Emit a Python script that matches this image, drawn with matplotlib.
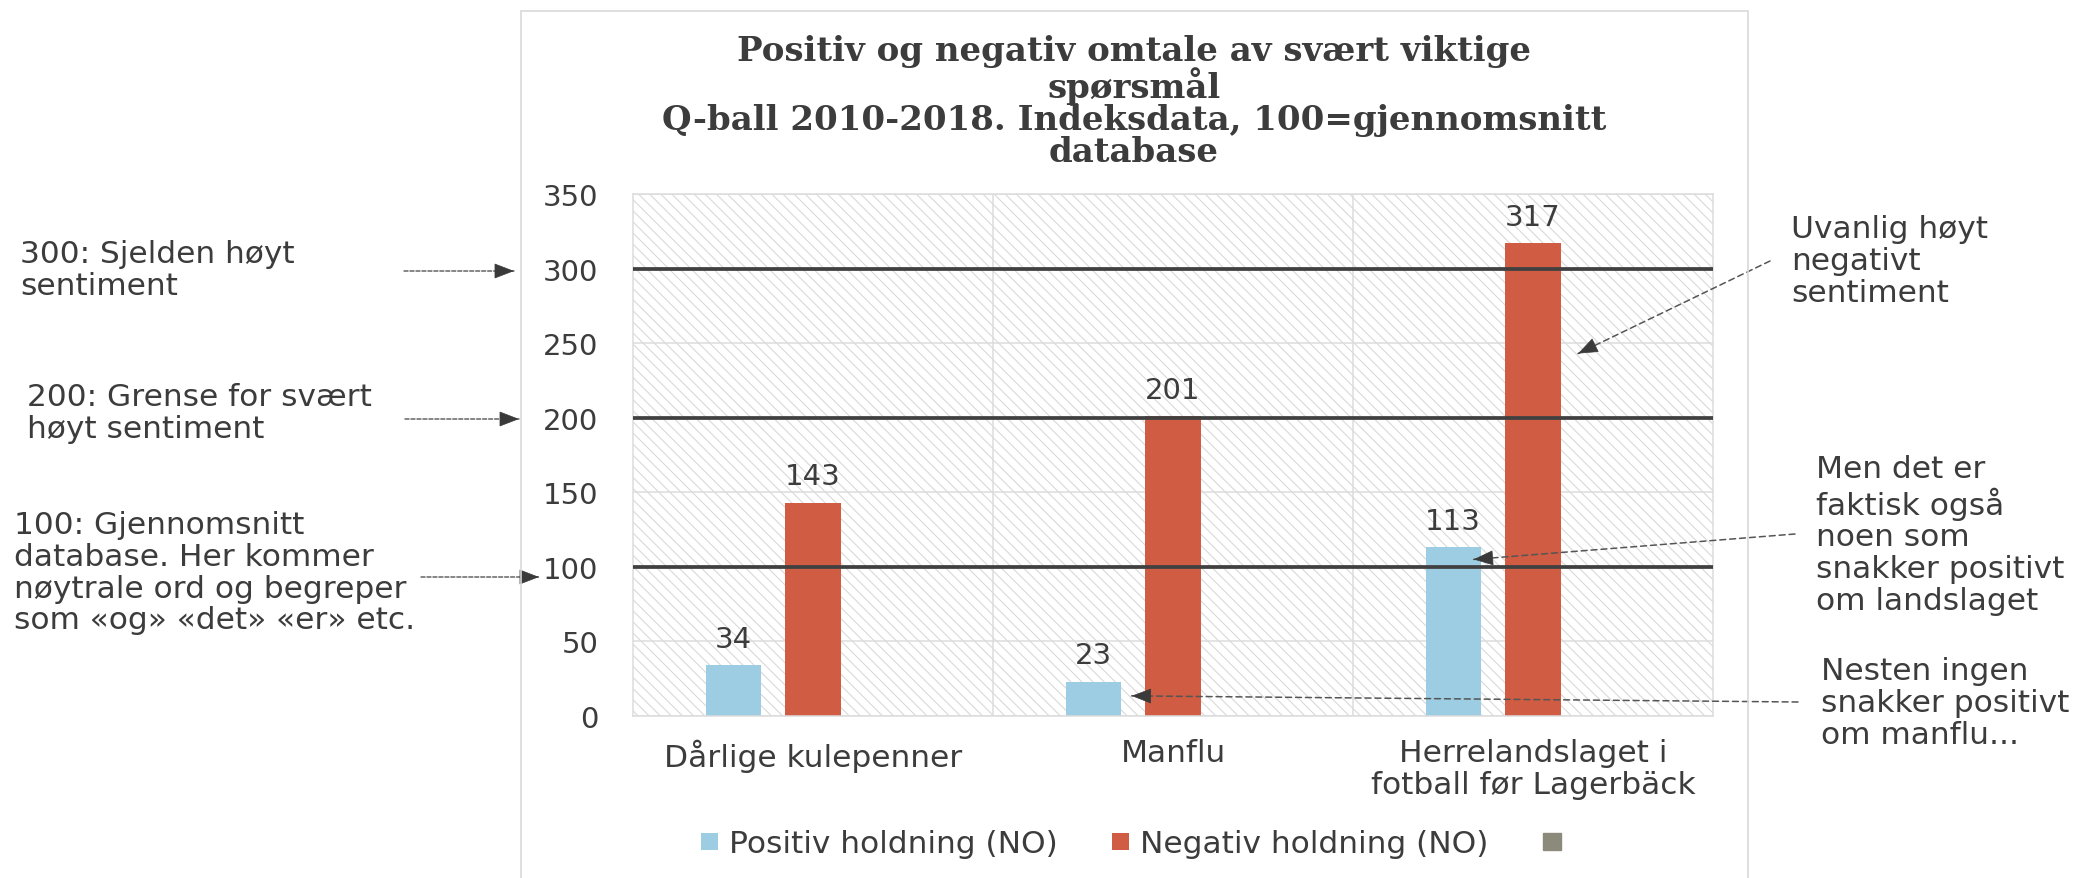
import numpy as np
import matplotlib
matplotlib.use("Agg")
import matplotlib.pyplot as plt
from matplotlib.patches import Rectangle

# data
categories = ["Dårlige kulepenner", "Manflu", "Herrelandslaget i\nfotball før Lagerbäck"]
positive = [34, 23, 113]
negative = [143, 201, 317]
third_series = [None, None, None]  # empty series, only shown in legend
series_labels = ["Positiv holdning (NO)", "Negativ holdning (NO)", ""]
yticks = [0, 50, 100, 150, 200, 250, 300, 350]
threshold_lines = [100, 200, 300]

title = ("Positiv og negativ omtale av svært viktige\nspørsmål\n"
         "Q-ball 2010-2018. Indeksdata, 100=gjennomsnitt\ndatabase")

TXT = "#3c3c3c"
BLUE = "#9dcde2"
RED = "#cf5c43"
GREY = "#8c8b7b"
FS = 22.5

W, H = 2089, 879


def fx(px):
    return px / W


def fy(py):
    return 1 - py / H


plt.rcParams["font.family"] = ["DejaVu Sans"]
plt.rcParams["hatch.color"] = "#d9d9d9"
plt.rcParams["hatch.linewidth"] = 0.8

fig = plt.figure(figsize=(W / 100, H / 100), dpi=100)
fig.patch.set_facecolor("white")

# chart frame
fig.add_artist(Rectangle((fx(521), -0.1), fx(1748) - fx(521), fy(12) + 0.1,
                         transform=fig.transFigure, fill=False,
                         edgecolor="#d9d9d9", lw=1.2))

ax = fig.add_axes([fx(633), fy(717), fx(1713) - fx(633), fy(195) - fy(717)])
ax.set_xlim(-0.5, 2.5)
ax.set_ylim(0, 350)

# hatched plot background
ax.add_patch(Rectangle((0, 0), 1, 1, transform=ax.transAxes, facecolor="white",
                       edgecolor="#d9d9d9", hatch="\\\\\\", lw=0, zorder=0))

x = np.arange(len(categories))
off = 0.222
bw = 0.153
third_vals = np.array([np.nan if v is None else v for v in third_series], dtype=float)
b1 = ax.bar(x - off, positive, bw, color=BLUE, zorder=2, label=series_labels[0])
b2 = ax.bar(x, negative, bw, color=RED, zorder=2, label=series_labels[1])
b3 = ax.bar(x + off, third_vals, bw, color=GREY, zorder=2, label=series_labels[2])

for bars, vals in [(b1, positive), (b2, negative)]:
    for rect, v in zip(bars, vals):
        ax.annotate(str(v), (rect.get_x() + rect.get_width() / 2, v),
                    xytext=(0, 9), textcoords="offset points",
                    ha="center", va="bottom", fontsize=21, color=TXT, zorder=5)

for t in threshold_lines:
    ax.axhline(t, color="#404040", lw=2.7, zorder=3)

ax.set_yticks(yticks)
ax.set_xticks(x)
ax.set_xticklabels(categories)
for lbl in ax.get_xticklabels():
    lbl.set_linespacing(1.1)
ax.set_xticks([0.5, 1.5], minor=True)
ax.grid(axis="y", which="major", color="#dcdcdc", lw=1.1, zorder=1)
ax.grid(axis="x", which="minor", color="#dcdcdc", lw=1.1, zorder=1)
ax.set_axisbelow(True)
ax.tick_params(axis="y", length=0, pad=25, labelsize=21, labelcolor=TXT)
ax.tick_params(axis="x", which="both", length=0, pad=16, labelsize=FS, labelcolor=TXT)
for s in ax.spines.values():
    s.set_color("#dcdcdc")
    s.set_linewidth(1.1)

# title
fig.text(fx(1134), fy(35), title, ha="center", va="top", fontsize=24.5,
         family="DejaVu Serif", weight="bold", color=TXT, linespacing=0.97)

# legend
handles = [b1.patches[0], b2.patches[0], Rectangle((0, 0), 1, 1, color=GREY)]
fig.legend(handles, series_labels, loc="center", bbox_to_anchor=(fx(1136), fy(845)),
           ncol=3, frameon=False, fontsize=FS, handlelength=0.55, handleheight=0.5,
           handletextpad=0.35, columnspacing=1.75, labelcolor=TXT)

# notes
notes = [
    ("300: Sjelden høyt\nsentiment", 20, 240),
    ("200: Grense for svært\nhøyt sentiment", 27, 383),
    ("100: Gjennomsnitt\ndatabase. Her kommer\nnøytrale ord og begreper\nsom «og» «det» «er» etc.", 14, 511),
    ("Uvanlig høyt\nnegativt\nsentiment", 1791, 215),
    ("Men det er\nfaktisk også\nnoen som\nsnakker positivt\nom landslaget", 1816, 455),
    ("Nesten ingen\nsnakker positivt\nom manflu...", 1821, 657),
]
for txt, px, py in notes:
    fig.text(fx(px), fy(py), txt, ha="left", va="top", fontsize=FS, color=TXT,
             linespacing=1.12)


def arrow(start, tip, tip_in_data, dash, lw):
    # start in image pixels, tip in data coords or image pixels
    sx, sy = start[0], H - start[1]
    if tip_in_data:
        tx, ty = ax.transData.transform(tip)
    else:
        tx, ty = tip[0], H - tip[1]
    ax.annotate("", xy=(tx, ty), xycoords="figure pixels", xytext=(sx, sy),
                textcoords="figure pixels", annotation_clip=False,
                arrowprops=dict(arrowstyle="-", color="#555555", lw=lw,
                                linestyle=(0, dash), shrinkA=0, shrinkB=0))
    d = np.hypot(tx - sx, ty - sy)
    bx, by = tx - (tx - sx) / d * 14, ty - (ty - sy) / d * 14
    ax.annotate("", xy=(tx, ty), xycoords="figure pixels", xytext=(bx, by),
                textcoords="figure pixels", annotation_clip=False,
                arrowprops=dict(arrowstyle="-|>,head_length=0.65,head_width=0.25",
                                mutation_scale=20, color="#3a3a3a", lw=0.5,
                                shrinkA=0, shrinkB=0))


arrow((404, 272), (514, 272), False, (2.9, 1.4), 1.0)
arrow((405, 420), (519, 420), False, (2.9, 1.4), 1.0)
arrow((421, 578), (539, 578), False, (2.9, 1.4), 1.0)
arrow((1770, 262), (2.125, 243), True, (3.9, 2.6), 1.1)
arrow((1795, 535), (1.835, 105), True, (3.9, 2.6), 1.1)
arrow((1798, 703), (0.885, 13.5), True, (3.9, 2.6), 1.1)

fig.savefig("out.png", dpi=100, facecolor="white")
